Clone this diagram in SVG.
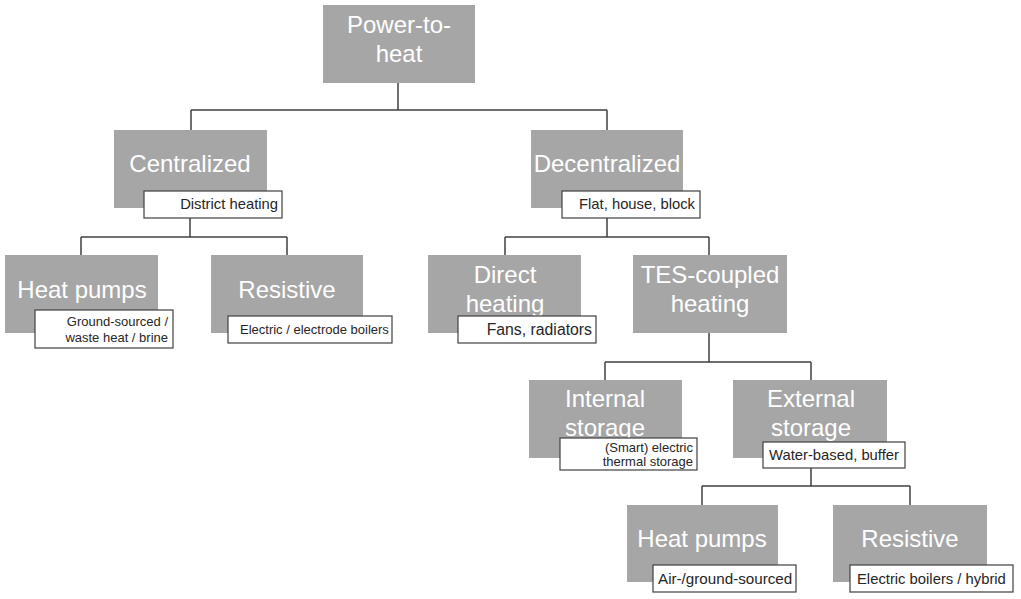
<svg xmlns="http://www.w3.org/2000/svg" width="1021" height="599" viewBox="0 0 1021 599">
<style>
.box{fill:#a6a6a6;}
.t{font-family:"Liberation Sans",Arial,sans-serif;font-size:24px;fill:#ffffff;text-anchor:middle;}
.lb{fill:#ffffff;stroke:#404040;stroke-width:1.2;}
.s{font-family:"Liberation Sans",Arial,sans-serif;font-size:13px;fill:#262626;}
.m{font-size:14.8px;}
.r{text-anchor:end;}
.c{fill:none;stroke:#404040;stroke-width:1.5;}
</style>
<rect width="1021" height="599" fill="#ffffff"/>
<g id="connectors">
<path class="c" d="M398,83 V110 M191,110 H607 M191,110 V130 M607,110 V130"/>
<path class="c" d="M190,218 V237 M81,237 H287 M81,237 V255 M287,237 V255"/>
<path class="c" d="M607,218 V237 M505,237 H709 M505,237 V255 M709,237 V255"/>
<path class="c" d="M709,333 V362 M605,362 H811 M605,362 V380 M811,362 V380"/>
<path class="c" d="M811,468 V486 M702,486 H910 M702,486 V505 M910,486 V505"/>
</g>
<g id="node-power-to-heat">
<rect class="box" x="323" y="5" width="152" height="78"/>
<text class="t" x="399" y="33">Power-to-</text>
<text class="t" x="399" y="62">heat</text>
</g>
<g id="node-centralized">
<rect class="box" x="114" y="130" width="153" height="78"/>
<text class="t" x="190" y="172">Centralized</text>
<rect class="lb" x="144" y="191" width="138" height="27"/>
<text class="s m r" x="278" y="209">District heating</text>
</g>
<g id="node-decentralized">
<rect class="box" x="531" y="130" width="152" height="78"/>
<text class="t" x="607" y="172">Decentralized</text>
<rect class="lb" x="562" y="191" width="138" height="27"/>
<text class="s m r" x="695" y="209">Flat, house, block</text>
</g>
<g id="node-heat-pumps-central">
<rect class="box" x="5" y="255" width="153" height="78"/>
<text class="t" x="82" y="298">Heat pumps</text>
<rect class="lb" x="35" y="310" width="138" height="38"/>
<text class="s r" x="168" y="326">Ground-sourced /</text>
<text class="s r" x="168" y="342">waste heat / brine</text>
</g>
<g id="node-resistive-central">
<rect class="box" x="211" y="255" width="152" height="78"/>
<text class="t" x="287" y="298">Resistive</text>
<rect class="lb" x="228" y="316" width="164" height="27"/>
<text class="s" x="240" y="334">Electric / electrode boilers</text>
</g>
<g id="node-direct-heating">
<rect class="box" x="428" y="255" width="153" height="78"/>
<text class="t" x="505" y="283">Direct</text>
<text class="t" x="505" y="312">heating</text>
<rect class="lb" x="458" y="316" width="138" height="27"/>
<text class="s r" x="592" y="335" style="font-size:15.8px">Fans, radiators</text>
</g>
<g id="node-tes-coupled">
<rect class="box" x="633" y="255" width="154" height="78"/>
<text class="t" x="710" y="283">TES-coupled</text>
<text class="t" x="710" y="312">heating</text>
</g>
<g id="node-internal-storage">
<rect class="box" x="529" y="380" width="153" height="78"/>
<text class="t" x="605" y="407">Internal</text>
<text class="t" x="605" y="436">storage</text>
<rect class="lb" x="560" y="438" width="137" height="32"/>
<text class="s r" x="693" y="452">(Smart) electric</text>
<text class="s r" x="693" y="466">thermal storage</text>
</g>
<g id="node-external-storage">
<rect class="box" x="733" y="380" width="154" height="78"/>
<text class="t" x="811" y="407">External</text>
<text class="t" x="811" y="436">storage</text>
<rect class="lb" x="763" y="442" width="142" height="26"/>
<text class="s m" x="769" y="460">Water-based, buffer</text>
</g>
<g id="node-heat-pumps-tes">
<rect class="box" x="627" y="505" width="151" height="77"/>
<text class="t" x="702" y="547">Heat pumps</text>
<rect class="lb" x="653" y="565" width="143" height="27"/>
<text class="s" x="658" y="584" style="font-size:15.2px">Air-/ground-sourced</text>
</g>
<g id="node-resistive-tes">
<rect class="box" x="833" y="505" width="154" height="77"/>
<text class="t" x="910" y="547">Resistive</text>
<rect class="lb" x="850" y="565" width="163" height="27"/>
<text class="s m" x="857" y="584">Electric boilers / hybrid</text>
</g>
</svg>
